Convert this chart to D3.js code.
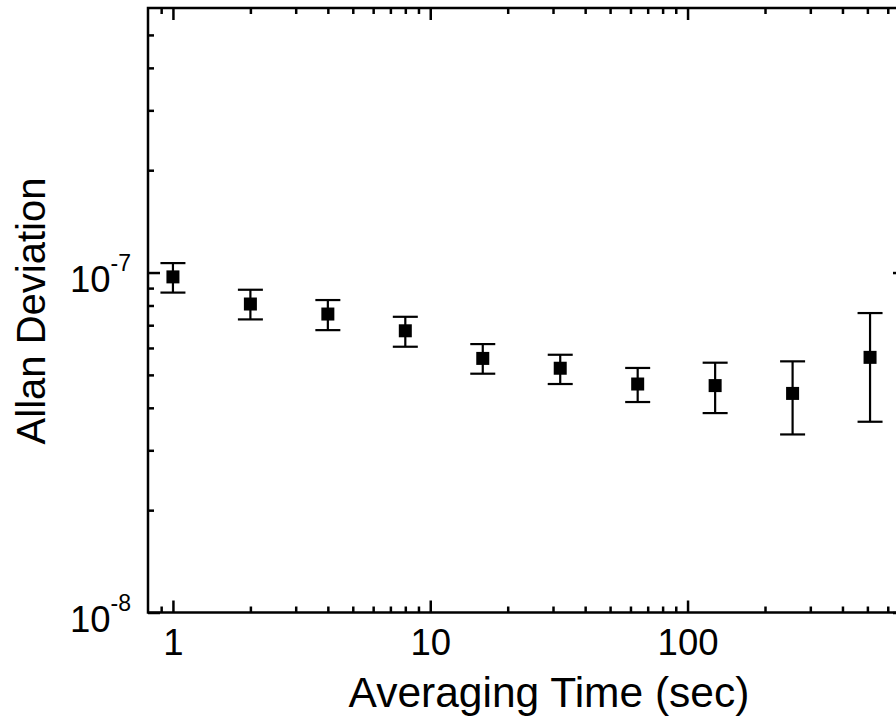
<!DOCTYPE html>
<html>
<head>
<meta charset="utf-8">
<script src="https://cdn.jsdelivr.net/npm/d3@7"></script>
<style>
  html, body { margin: 0; padding: 0; background: #fff; }
  svg { display: block; font-family: "Liberation Sans", Arial, Helvetica, sans-serif; }
</style>
</head>
<body>
<svg id="chart" width="896" height="719"></svg>
<script>
// ─── DATA ─────────────────────────────────────────────────────────────────────
const tau    = [1, 2, 4, 8, 16, 32, 64, 128, 256, 512];
const adev   = [0.971e-7, 0.808e-7, 0.755e-7, 0.674e-7, 0.559e-7, 0.523e-7, 0.470e-7, 0.465e-7, 0.441e-7, 0.563e-7];
const errTop = [1.066e-7, 0.890e-7, 0.830e-7, 0.741e-7, 0.616e-7, 0.573e-7, 0.524e-7, 0.543e-7, 0.548e-7, 0.760e-7];
const errBot = [0.873e-7, 0.728e-7, 0.677e-7, 0.605e-7, 0.504e-7, 0.470e-7, 0.416e-7, 0.386e-7, 0.334e-7, 0.364e-7];

const xMajor = [1, 10, 100];
const xMinor = [0.9, 2, 3, 4, 5, 6, 7, 8, 9, 20, 30, 40, 50, 60, 70, 80, 90, 200, 300, 400, 500, 600, 700];
const yMajor = [1e-8, 1e-7];
const yMinor = [2e-8, 3e-8, 4e-8, 5e-8, 6e-8, 7e-8, 8e-8, 9e-8, 2e-7, 3e-7, 4e-7, 5e-7];
const yLabels = { 1e-8: '-8', 1e-7: '-7' };

const xTitle = 'Averaging Time (sec)';
const yTitle = 'Allan Deviation';
// ──────────────────────────────────────────────────────────────────────────────

const margin = { top: 8, left: 148 };
const width  = 757;
const height = 604.5;

const svg = d3.select('#chart');
const g = svg.append('g').attr('transform', `translate(${margin.left},${margin.top})`);

const x = d3.scaleLog().domain([0.8, 700]).range([0, width]);
const y = d3.scaleLog().domain([1e-8, 6e-7]).range([height, 0]);

const isMajor = (d, list) => list.some((m) => Math.abs(m - d) / m < 1e-6);
const xTicks = xMajor.concat(xMinor);
const yTicks = yMajor.concat(yMinor);

function styleAxis(sel) {
  sel.select('.domain').remove();
  sel.selectAll('.tick line').attr('stroke', '#000').attr('stroke-width', 2.5);
}

// bottom
const xBottom = g.append('g')
  .attr('transform', `translate(0,${height})`)
  .call(d3.axisBottom(x).tickValues(xTicks).tickSize(0)
    .tickFormat((d) => (isMajor(d, xMajor) ? d3.format('d')(d) : '')));
styleAxis(xBottom);
xBottom.selectAll('.tick line').attr('y2', (d) => (isMajor(d, xMajor) ? -12 : -6));
xBottom.selectAll('.tick text')
  .attr('y', 42.5).attr('dy', 0)
  .attr('font-size', 36.5).attr('fill', '#000');

// top
const xTop = g.append('g')
  .call(d3.axisTop(x).tickValues(xTicks).tickSize(0).tickFormat(''));
styleAxis(xTop);
xTop.selectAll('.tick line').attr('y2', (d) => (isMajor(d, xMajor) ? 12 : 6));

// left
const yLeft = g.append('g')
  .call(d3.axisLeft(y).tickValues(yTicks).tickSize(0).tickFormat(''));
styleAxis(yLeft);
yLeft.selectAll('.tick line').attr('x2', (d) => (isMajor(d, yMajor) ? 12 : 6));
yLeft.selectAll('.tick')
  .filter((d) => isMajor(d, yMajor))
  .select('text')
  .attr('x', -17).attr('dy', 0).attr('y', 19)
  .attr('text-anchor', 'end').attr('fill', '#000')
  .each(function (d) {
    const t = d3.select(this);
    t.append('tspan').attr('font-size', 36.5).text('10');
    t.append('tspan').attr('font-size', 23).attr('dy', -21).text(yLabels[d]);
  });

// right
const yRight = g.append('g')
  .attr('transform', `translate(${width},0)`)
  .call(d3.axisRight(y).tickValues(yTicks).tickSize(0).tickFormat(''));
styleAxis(yRight);
yRight.selectAll('.tick line').attr('x2', (d) => (isMajor(d, yMajor) ? -12 : -6));

// frame
g.append('rect')
  .attr('x', 0).attr('y', 0)
  .attr('width', width).attr('height', height)
  .attr('fill', 'none').attr('stroke', '#000').attr('stroke-width', 2.5);

// error bars
const pts = tau.map((t, i) => ({ t, v: adev[i], hi: errTop[i], lo: errBot[i] }));
const capW = 12.5;

const eb = g.append('g').selectAll('g.err').data(pts).join('g').attr('class', 'err')
  .attr('stroke', '#000').attr('stroke-width', 2.2);
eb.append('line')
  .attr('x1', (d) => x(d.t)).attr('x2', (d) => x(d.t))
  .attr('y1', (d) => y(d.hi)).attr('y2', (d) => y(d.lo));
eb.append('line')
  .attr('x1', (d) => x(d.t) - capW).attr('x2', (d) => x(d.t) + capW)
  .attr('y1', (d) => y(d.hi)).attr('y2', (d) => y(d.hi));
eb.append('line')
  .attr('x1', (d) => x(d.t) - capW).attr('x2', (d) => x(d.t) + capW)
  .attr('y1', (d) => y(d.lo)).attr('y2', (d) => y(d.lo));

// markers
const sq = 13;
g.append('g').selectAll('rect.pt').data(pts).join('rect').attr('class', 'pt')
  .attr('x', (d) => x(d.t) - sq / 2).attr('y', (d) => y(d.v) - sq / 2)
  .attr('width', sq).attr('height', sq).attr('fill', '#000');

// axis titles
svg.append('text')
  .attr('x', 549).attr('y', 707)
  .attr('text-anchor', 'middle').attr('font-size', 42.5).attr('fill', '#000')
  .text(xTitle);

svg.append('text')
  .attr('transform', 'translate(45,311) rotate(-90)')
  .attr('text-anchor', 'middle').attr('font-size', 40).attr('fill', '#000')
  .text(yTitle);
</script>
</body>
</html>
